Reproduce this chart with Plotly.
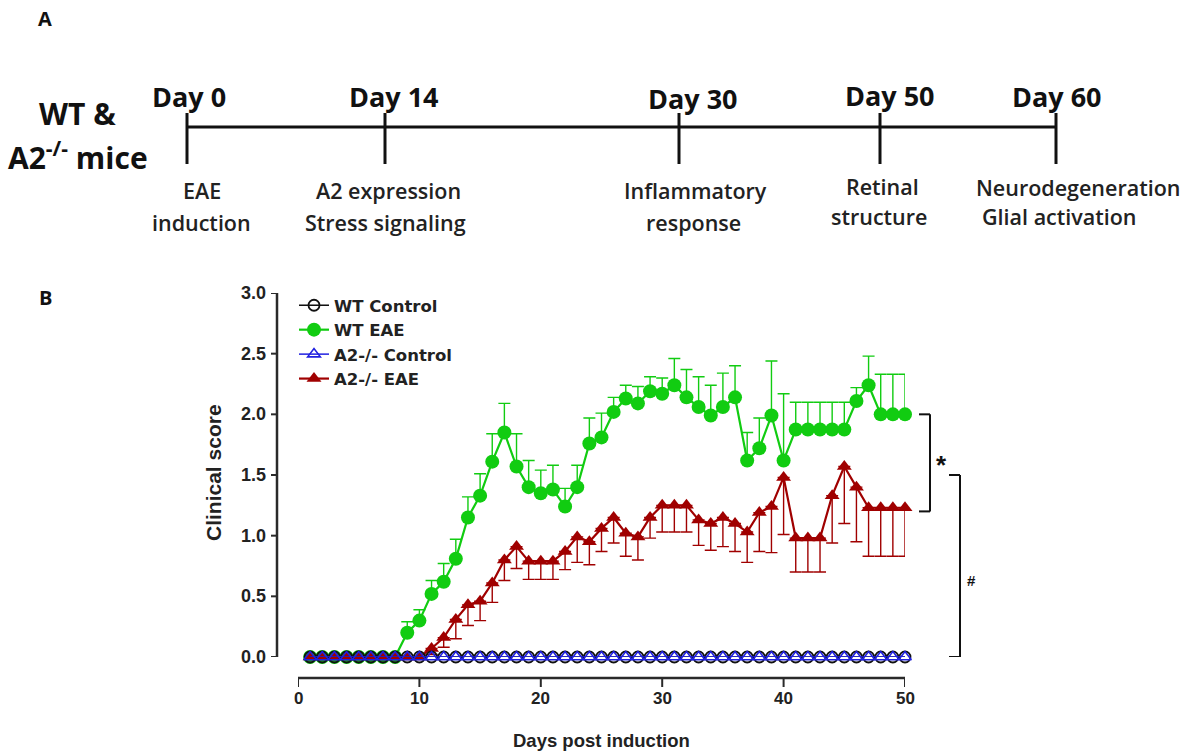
import plotly.graph_objects as go

W, H = 1196, 754

# ---------------- data ----------------
days = [1, 2, 3, 4, 5, 6, 7, 8, 9, 10, 11, 12, 13, 14, 15, 16, 17, 18, 19, 20,
        21, 22, 23, 24, 25, 26, 27, 28, 29, 30, 31, 32, 33, 34, 35, 36, 37, 38, 39, 40,
        41, 42, 43, 44, 45, 46, 47, 48, 49, 50]

wt_control = [0.0] * 50
a2_control = [0.0] * 50

wt_eae = [0, 0, 0, 0, 0, 0, 0, 0, 0.20, 0.30,
          0.52, 0.62, 0.81, 1.15, 1.33, 1.61, 1.85, 1.57, 1.40, 1.35,
          1.38, 1.24, 1.40, 1.76, 1.81, 2.02, 2.13, 2.09, 2.19, 2.17,
          2.24, 2.14, 2.06, 1.99, 2.06, 2.14, 1.62, 1.72, 1.99, 1.62,
          1.875, 1.875, 1.875, 1.875, 1.875, 2.11, 2.24, 2.0, 2.0, 2.0]
wt_eae_sem = [0, 0, 0, 0, 0, 0, 0, 0, 0.09, 0.09,
              0.11, 0.15, 0.16, 0.17, 0.18, 0.23, 0.24, 0.27, 0.22, 0.19,
              0.20, 0.15, 0.18, 0.21, 0.20, 0.12, 0.11, 0.14, 0.12, 0.13,
              0.22, 0.23, 0.25, 0.25, 0.28, 0.26, 0.23, 0.25, 0.45, 0.55,
              0.225, 0.225, 0.225, 0.225, 0.225, 0.11, 0.24, 0.33, 0.33, 0.33]

a2_eae = [0, 0, 0, 0, 0, 0, 0, 0, 0, 0,
          0.07, 0.16, 0.31, 0.43, 0.46, 0.61, 0.80, 0.91, 0.79, 0.79,
          0.79, 0.87, 0.99, 0.95, 1.06, 1.15, 1.02, 0.99, 1.15, 1.25,
          1.25, 1.25, 1.13, 1.10, 1.15, 1.10, 1.03, 1.19, 1.24, 1.48,
          0.98, 0.98, 0.98, 1.33, 1.57, 1.40, 1.23, 1.23, 1.23, 1.23]
a2_eae_sem = [0, 0, 0, 0, 0, 0, 0, 0, 0, 0,
              0.05, 0.08, 0.16, 0.17, 0.16, 0.16, 0.17, 0.18, 0.15, 0.15,
              0.15, 0.15, 0.21, 0.19, 0.19, 0.21, 0.19, 0.19, 0.17, 0.22,
              0.22, 0.22, 0.21, 0.22, 0.24, 0.23, 0.25, 0.32, 0.38, 0.47,
              0.28, 0.28, 0.28, 0.39, 0.47, 0.45, 0.40, 0.40, 0.40, 0.40]

series_names = ["WT Control", "WT EAE", "A2-/- Control", "A2-/- EAE"]
x_ticks = [0, 10, 20, 30, 40, 50]
y_ticks = [0.0, 0.5, 1.0, 1.5, 2.0, 2.5, 3.0]

# timeline (panel A)
tl_days = ["Day 0", "Day 14", "Day 30", "Day 50", "Day 60"]
tl_events = [["EAE", "induction"], ["A2 expression", "Stress signaling"],
             ["Inflammatory", "response"], ["Retinal", "structure"],
             ["Neurodegeneration", "Glial activation"]]

# brackets (significance)
sig_star = [2.0, 1.2]   # WT EAE vs A2 EAE
sig_hash = [1.5, 0.0]   # A2 EAE vs A2 control

# ---------------- layout helpers ----------------
def px(x):
    return x / W

def py(y):
    return 1 - y / H

GREEN = "#11CC11"
RED = "#A00000"
BLUE = "#2020E0"
AX = "#2a2a2a"
ARIAL = "Liberation Sans, Arial, sans-serif"
LEGF = "DejaVu Sans, Liberation Sans, sans-serif"
CAL = "Open Sans, Lato, sans-serif"

fig = go.Figure()

zeros = [0.0] * 50

fig.add_trace(go.Scatter(
    x=days, y=wt_eae, name=series_names[1], mode="lines+markers",
    line=dict(color=GREEN, width=2.2),
    marker=dict(symbol="circle", size=14, color=GREEN),
    error_y=dict(type="data", symmetric=False, array=wt_eae_sem, arrayminus=zeros,
                 color=GREEN, thickness=1.4, width=6),
    cliponaxis=False, legendrank=2))

fig.add_trace(go.Scatter(
    x=days, y=a2_eae, name=series_names[3], mode="lines+markers",
    line=dict(color=RED, width=2.2),
    marker=dict(symbol="triangle-up", size=13, color=RED),
    error_y=dict(type="data", symmetric=False, array=zeros, arrayminus=a2_eae_sem,
                 color=RED, thickness=1.4, width=6),
    cliponaxis=False, legendrank=4))

fig.add_trace(go.Scatter(
    x=days, y=wt_control, name=series_names[0], mode="lines+markers",
    line=dict(color="#111111", width=1.5),
    marker=dict(symbol="circle-open", size=11, color="#111111", line=dict(width=1.8)),
    cliponaxis=False, legendrank=1))

fig.add_trace(go.Scatter(
    x=days, y=a2_control, name=series_names[2], mode="lines+markers",
    line=dict(color=BLUE, width=1.5),
    marker=dict(symbol="triangle-up-open", size=11, color=BLUE, line=dict(width=1.6)),
    cliponaxis=False, legendrank=3))

shapes = []
annotations = []


def note(x, y, text, font, xref="paper", yref="paper", xanchor="center", **kw):
    annotations.append(dict(xref=xref, yref=yref, x=x, y=y, text=text, showarrow=False,
                            font=font, xanchor=xanchor, yanchor="middle", **kw))


# axis lines as in GraphPad (offset axes)
x_axis_y = py(678)
shapes.append(dict(type="line", xref="x", yref="paper", x0=x_ticks[0], x1=x_ticks[-1],
                   y0=x_axis_y, y1=x_axis_y, line=dict(color=AX, width=2.5)))
for t in x_ticks:
    shapes.append(dict(type="line", xref="x", yref="paper", x0=t, x1=t,
                       y0=x_axis_y, y1=py(687), line=dict(color=AX, width=2)))
    note(t, py(698), f"<b>{t}</b>", dict(family=ARIAL, size=17, color="#222"), xref="x")

y_axis_x = px(277)
shapes.append(dict(type="line", xref="paper", yref="y", x0=y_axis_x, x1=y_axis_x,
                   y0=y_ticks[0], y1=y_ticks[-1], line=dict(color=AX, width=2.5)))
for t in y_ticks:
    shapes.append(dict(type="line", xref="paper", yref="y", x0=px(271), x1=y_axis_x,
                       y0=t, y1=t, line=dict(color=AX, width=2)))
    note(px(268), t, f"<b>{t:.1f}</b>", dict(family=ARIAL, size=18, color="#222"),
         yref="y", xanchor="right")

note(px(601), py(740), "<b>Days post induction</b>", dict(family=ARIAL, size=18.5, color="#222"))
note(px(213), py(473), "<b>Clinical score</b>", dict(family=ARIAL, size=21, color="#222"),
     textangle=-90)


# significance brackets
def bracket(yv, xv_px, arm_px, label, lab_px, lab_y, lab_size):
    xv = px(xv_px)
    xa = px(xv_px - arm_px)
    shapes.append(dict(type="line", xref="paper", yref="y", x0=xv, x1=xv, y0=yv[0], y1=yv[1],
                       line=dict(color="#111", width=2)))
    for v in yv:
        shapes.append(dict(type="line", xref="paper", yref="y", x0=xa, x1=xv, y0=v, y1=v,
                           line=dict(color="#111", width=2)))
    note(px(lab_px), lab_y, label, dict(family=ARIAL, size=lab_size, color="#111"), yref="y")


bracket(sig_star, 930, 11, "<b>*</b>", 941, (sig_star[0] + sig_star[1]) / 2 - 0.02, 26)
bracket(sig_hash, 960, 11, "<b>#</b>", 971, 0.63, 15)

# panel labels
note(px(45), py(19), "<b>A</b>", dict(family=CAL, size=20, color="#111"))
note(px(45), py(298), "<b>B</b>", dict(family=CAL, size=20, color="#111"))

# timeline (schematic positions)
tl_x = [187, 385, 679, 880, 1056]
tl_day_x = [189, 394, 693, 890, 1057]
tl_day_y = [97, 97, 99, 95, 97]
tl_ev_x = [[202, 201], [388, 385], [695, 694], [882, 879], [1078, 1059]]
tl_ev_y = [[190, 222], [190, 222], [190, 222], [186, 217], [187, 216]]
tl_line_y = 127
shapes.append(dict(type="line", xref="paper", yref="paper", x0=px(tl_x[0]), x1=px(tl_x[-1]),
                   y0=py(tl_line_y), y1=py(tl_line_y), line=dict(color="#111", width=3)))
for i, xp in enumerate(tl_x):
    shapes.append(dict(type="line", xref="paper", yref="paper", x0=px(xp), x1=px(xp),
                       y0=py(113), y1=py(164), line=dict(color="#111", width=3)))
    note(px(tl_day_x[i]), py(tl_day_y[i]), "<b>" + tl_days[i] + "</b>",
         dict(family=CAL, size=27, color="#111"))
    for j, line in enumerate(tl_events[i]):
        note(px(tl_ev_x[i][j]), py(tl_ev_y[i][j]), line,
             dict(family=CAL, size=21.5, color="#222", weight=600))

note(px(77), py(114), "<b>WT &amp;</b>", dict(family=CAL, size=30, color="#111"))
note(px(78), py(156), "<b>A2<sup>-/-</sup> mice</b>", dict(family=CAL, size=30, color="#111"))

fig.update_layout(
    width=W, height=H,
    margin=dict(l=0, r=0, t=0, b=0),
    paper_bgcolor="white", plot_bgcolor="rgba(0,0,0,0)",
    xaxis=dict(domain=[px(298), px(905)], range=[0, 50], visible=False, anchor="y"),
    yaxis=dict(domain=[py(657), py(293)], range=[0, 3], visible=False, anchor="x"),
    showlegend=True,
    legend=dict(x=px(294), y=py(288), xanchor="left", yanchor="top",
                bgcolor="rgba(0,0,0,0)", itemwidth=30, tracegroupgap=0,
                font=dict(family=LEGF, size=16.5, color="#222", weight="bold")),
    shapes=shapes, annotations=annotations,
)

fig.write_html("out.html", config={"displayModeBar": False},
               post_script="document.body.style.margin='0px';")
